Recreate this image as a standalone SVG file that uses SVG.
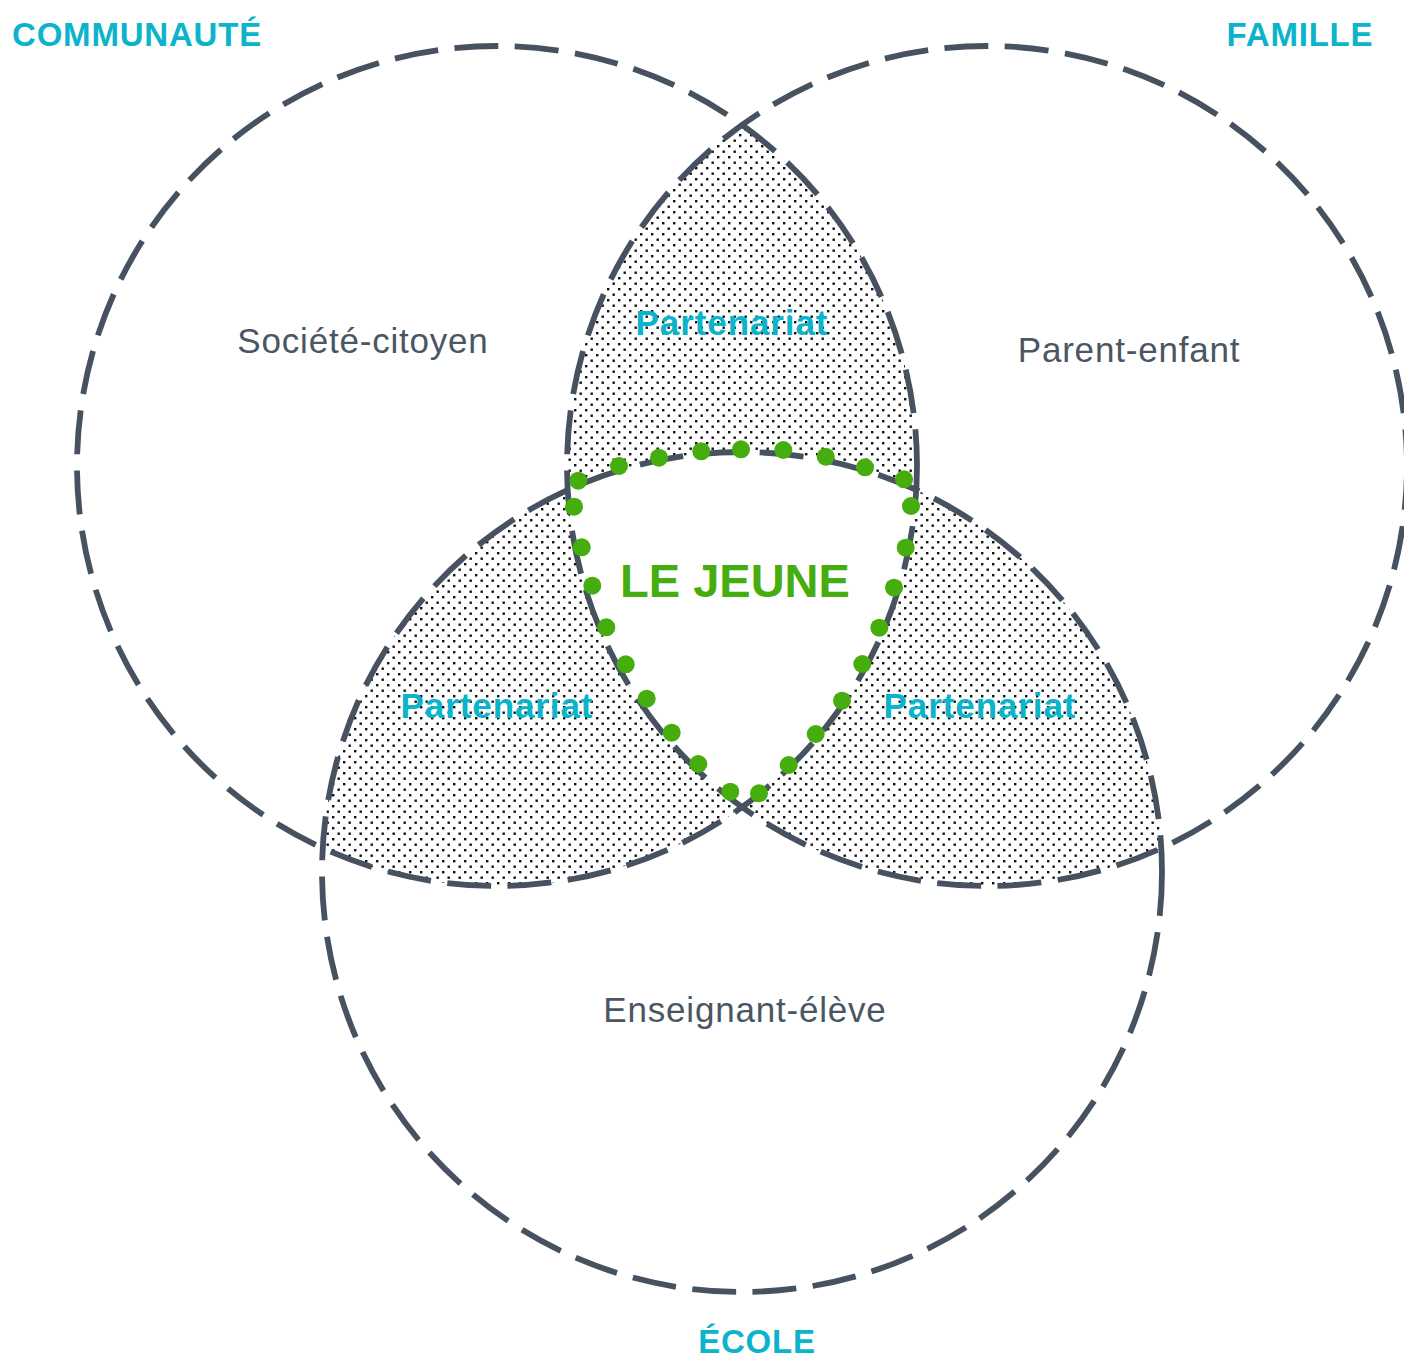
<svg xmlns="http://www.w3.org/2000/svg" width="1404" height="1359" viewBox="0 0 1404 1359">
<style>
.ring{fill:none;stroke:#46525f;stroke-width:5.8;stroke-dasharray:44 16.5}
.dot{fill:#45ad0e}
.head{font-family:"Liberation Sans",Arial,sans-serif;font-weight:bold;fill:#0bb4ca;text-anchor:middle}
.rel{font-family:"Liberation Sans",Arial,sans-serif;fill:#4a5663;text-anchor:middle;font-size:35px;letter-spacing:0.8px}
.part{font-family:"Liberation Sans",Arial,sans-serif;font-weight:bold;fill:#0bb4ca;text-anchor:middle;font-size:35px;letter-spacing:0.9px}
</style>
<defs>
<pattern id="stip" width="11" height="11" patternUnits="userSpaceOnUse">
<rect x="0" y="0" width="11" height="11" fill="#ffffff"/>
<rect x="2" y="2" width="2.4" height="2.4" fill="#111111"/>
<rect x="7.5" y="7.5" width="2.4" height="2.4" fill="#111111"/>
</pattern>
<clipPath id="cA"><circle cx="497" cy="466" r="420"/></clipPath>
<clipPath id="cB"><circle cx="987" cy="466" r="420"/></clipPath>
<clipPath id="cC"><circle cx="742" cy="872" r="420"/></clipPath>
</defs>
<rect width="1404" height="1359" fill="#ffffff"/>
<g id="overlaps">
<circle cx="987" cy="466" r="420" fill="url(#stip)" clip-path="url(#cA)"/>
<circle cx="742" cy="872" r="420" fill="url(#stip)" clip-path="url(#cA)"/>
<circle cx="742" cy="872" r="420" fill="url(#stip)" clip-path="url(#cB)"/>
<g clip-path="url(#cA)"><circle cx="742" cy="872" r="420" fill="#ffffff" clip-path="url(#cB)"/></g>
</g>
<g id="communaute"><circle class="ring" cx="497" cy="466" r="420"/></g>
<g id="famille"><circle class="ring" cx="987" cy="466" r="420"/></g>
<g id="ecole"><circle class="ring" cx="742" cy="872" r="420"/></g>
<g id="le-jeune">
<circle class="dot" cx="578.3" cy="480.7" r="9"/>
<circle class="dot" cx="619" cy="466" r="9"/>
<circle class="dot" cx="659" cy="457.7" r="9"/>
<circle class="dot" cx="701.3" cy="451.3" r="9"/>
<circle class="dot" cx="741" cy="449.3" r="9"/>
<circle class="dot" cx="783.3" cy="450" r="9"/>
<circle class="dot" cx="825.7" cy="456.7" r="9"/>
<circle class="dot" cx="865" cy="467.3" r="9"/>
<circle class="dot" cx="904" cy="479.3" r="9"/>
<circle class="dot" cx="911" cy="506" r="9"/>
<circle class="dot" cx="905.7" cy="547.7" r="9"/>
<circle class="dot" cx="894" cy="587.7" r="9"/>
<circle class="dot" cx="879.3" cy="627.7" r="9"/>
<circle class="dot" cx="862.3" cy="664" r="9"/>
<circle class="dot" cx="842" cy="700.7" r="9"/>
<circle class="dot" cx="815.7" cy="734" r="9"/>
<circle class="dot" cx="788.7" cy="765" r="9"/>
<circle class="dot" cx="759" cy="793.3" r="9"/>
<circle class="dot" cx="730.3" cy="791.7" r="9"/>
<circle class="dot" cx="698.3" cy="764" r="9"/>
<circle class="dot" cx="671.7" cy="732.7" r="9"/>
<circle class="dot" cx="646.7" cy="698.7" r="9"/>
<circle class="dot" cx="625.7" cy="664.3" r="9"/>
<circle class="dot" cx="606.3" cy="627.3" r="9"/>
<circle class="dot" cx="592.3" cy="585.7" r="9"/>
<circle class="dot" cx="581.7" cy="547.3" r="9"/>
<circle class="dot" cx="574" cy="506.7" r="9"/>
<text x="735" y="597" font-family="Liberation Sans, Arial, sans-serif" font-weight="bold" font-size="47" fill="#45ad0e" text-anchor="middle">LE JEUNE</text>
</g>
<g id="labels">
<text class="head" x="137" y="46" font-size="33" letter-spacing="0.8">COMMUNAUTÉ</text>
<text class="head" x="1300" y="46" font-size="33" letter-spacing="0.8">FAMILLE</text>
<text class="head" x="757" y="1353" font-size="33" letter-spacing="0.8">ÉCOLE</text>
<text class="rel" x="363" y="353">Société-citoyen</text>
<text class="rel" x="1129" y="362">Parent-enfant</text>
<text class="rel" x="745" y="1022">Enseignant-élève</text>
<text class="part" x="732" y="335">Partenariat</text>
<text class="part" x="497" y="718">Partenariat</text>
<text class="part" x="980" y="718">Partenariat</text>
</g>
</svg>
